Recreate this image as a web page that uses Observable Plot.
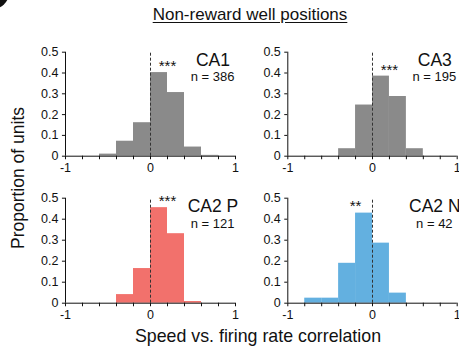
<!DOCTYPE html>
<html>
<head>
<meta charset="utf-8">
<script src="https://cdn.jsdelivr.net/npm/d3@7"></script>
<script src="https://cdn.jsdelivr.net/npm/@observablehq/plot@0.6"></script>
<style>
  body { margin: 0; background: #fff; }
  #fig {
    position: relative; width: 459px; height: 351px; overflow: hidden;
    font-family: "Liberation Sans", Arial, Helvetica, sans-serif; color: #111;
  }
  #fig svg { position: absolute; left: 0; top: 0; }
  .badge { position: absolute; left: -30px; top: -30px; width: 40px; height: 40px; border-radius: 50%; background: #111; }
  .lbl { position: absolute; white-space: nowrap; line-height: 1; }
  #title { left: 250px; top: 6px; font-size: 17px; transform: translateX(-50%); text-decoration: underline; text-underline-offset: 2px; }
  #ylab { left: 19px; top: 178px; font-size: 17.5px; transform: translate(-50%, -50%) rotate(-90deg); }
  #xlab { left: 258px; top: 328px; font-size: 17.8px; transform: translateX(-50%); }
</style>
</head>
<body>
<div id="fig">
  <div class="badge"></div>
  <div class="lbl" id="title">Non-reward well positions</div>
  <div class="lbl" id="ylab">Proportion of units</div>
  <div class="lbl" id="xlab">Speed vs. firing rate correlation</div>
</div>
<script>
// Histogram bins of the speed / firing-rate correlation (left edges, width 0.2)
const binStarts = [-1, -0.8, -0.6, -0.4, -0.2, 0, 0.2, 0.4, 0.6, 0.8];
const binWidth = 0.2;

const regions = ["CA1", "CA3", "CA2 P", "CA2 N"];
const unitCounts = [386, 195, 121, 42];
const significance = ["***", "***", "***", "**"];

// Proportion of units in each bin, per region
const ca1 = [0, 0, 0.01, 0.072, 0.161, 0.402, 0.306, 0.044, 0.004, 0];
const ca3 = [0, 0, 0, 0.036, 0.246, 0.385, 0.287, 0.036, 0, 0];
const ca2p = [0, 0, 0, 0.041, 0.165, 0.455, 0.331, 0.008, 0, 0];
const ca2n = [0, 0.024, 0.024, 0.19, 0.429, 0.286, 0.048, 0, 0, 0];
const proportions = [ca1, ca3, ca2p, ca2n];

const barColors = ["#8a8a8a", "#8a8a8a", "#f2716c", "#63b0e0"];

// Axis ticks
const xTicks = [-1, -0.8, -0.6, -0.4, -0.2, 0, 0.2, 0.4, 0.6, 0.8, 1];
const xTickLabelValues = [-1, 0, 1];
const xTickLabels = ["-1", "0", "1"];
const yTicks = [0, 0.1, 0.2, 0.3, 0.4, 0.5];
const yTickLabels = ["0", "0.1", "0.2", "0.3", "0.4", "0.5"];

const W = 459, H = 351;
// Frame of each panel in the 2 x 2 grid: [left, right, top, bottom]
const frames = [
  [65, 235, 51.7, 155.7],
  [287.3, 456.7, 51.7, 155.7],
  [65, 235, 197.7, 302.7],
  [287.3, 456.7, 197.7, 302.7]
];

const font = '"Liberation Sans", Arial, Helvetica, sans-serif';
const ink = "#111";

function panel(i) {
  const [l, r, t, b] = frames[i];
  const bins = binStarts.map((x0, k) => ({x0, x1: x0 + binWidth, p: proportions[i][k]}))
    .filter(d => d.p > 0);
  const peak = bins.reduce((a, d) => (d.p > a.p ? d : a));
  const peakMid = peak.x0 + binWidth / 2;
  const starX = peakMid + Math.sign(peakMid) * 0.1;
  const starY = peak.p + 0.05;

  return Plot.plot({
    width: W, height: H,
    marginLeft: l, marginRight: W - r, marginTop: t, marginBottom: H - b,
    x: {domain: [-1, 1], axis: null},
    y: {domain: [0, 0.5], axis: null},
    style: {background: "transparent", fontFamily: font, fontSize: "12px", color: ink, overflow: "visible"},
    marks: [
      Plot.rect(bins, {x1: "x0", x2: "x1", y1: 0, y2: "p", fill: barColors[i]}),
      // axes
      Plot.ruleY([0], {x1: -1, x2: 1, stroke: ink, strokeWidth: 1}),
      Plot.ruleX([-1], {y1: 0, y2: 0.5, stroke: ink, strokeWidth: 1}),
      Plot.ruleX(xTicks, {y1: 0, y2: -0.017, stroke: ink, strokeWidth: 1}),
      Plot.ruleY(yTicks, {x1: -1, x2: -1.036, stroke: ink, strokeWidth: 1}),
      Plot.text(yTicks, {x: -1, y: d => d, text: (d, k) => yTickLabels[k], dx: -7, textAnchor: "end", fontSize: 12.5, fill: ink}),
      Plot.text(xTickLabelValues, {x: d => d, y: 0, text: (d, k) => xTickLabels[k], dy: 11.5, fontSize: 12.5, fill: ink}),
      // zero reference
      Plot.ruleX([0], {y1: 0, y2: 0.5, stroke: "#333", strokeWidth: 1, strokeDasharray: "3,2"}),
      // annotations
      Plot.text([significance[i]], {x: starX, y: starY, text: d => d, fontSize: 15, fill: ink, dy: 4}),
      Plot.text([regions[i]], {x: 0.735, y: 0.46, text: d => d, fontSize: 17.5, fill: ink}),
      Plot.text([`n = ${unitCounts[i]}`], {x: 0.73, y: 0.38, text: d => d, fontSize: 13, fill: ink})
    ]
  });
}

const fig = document.getElementById("fig");
regions.forEach((_, i) => fig.appendChild(panel(i)));
</script>
</body>
</html>
